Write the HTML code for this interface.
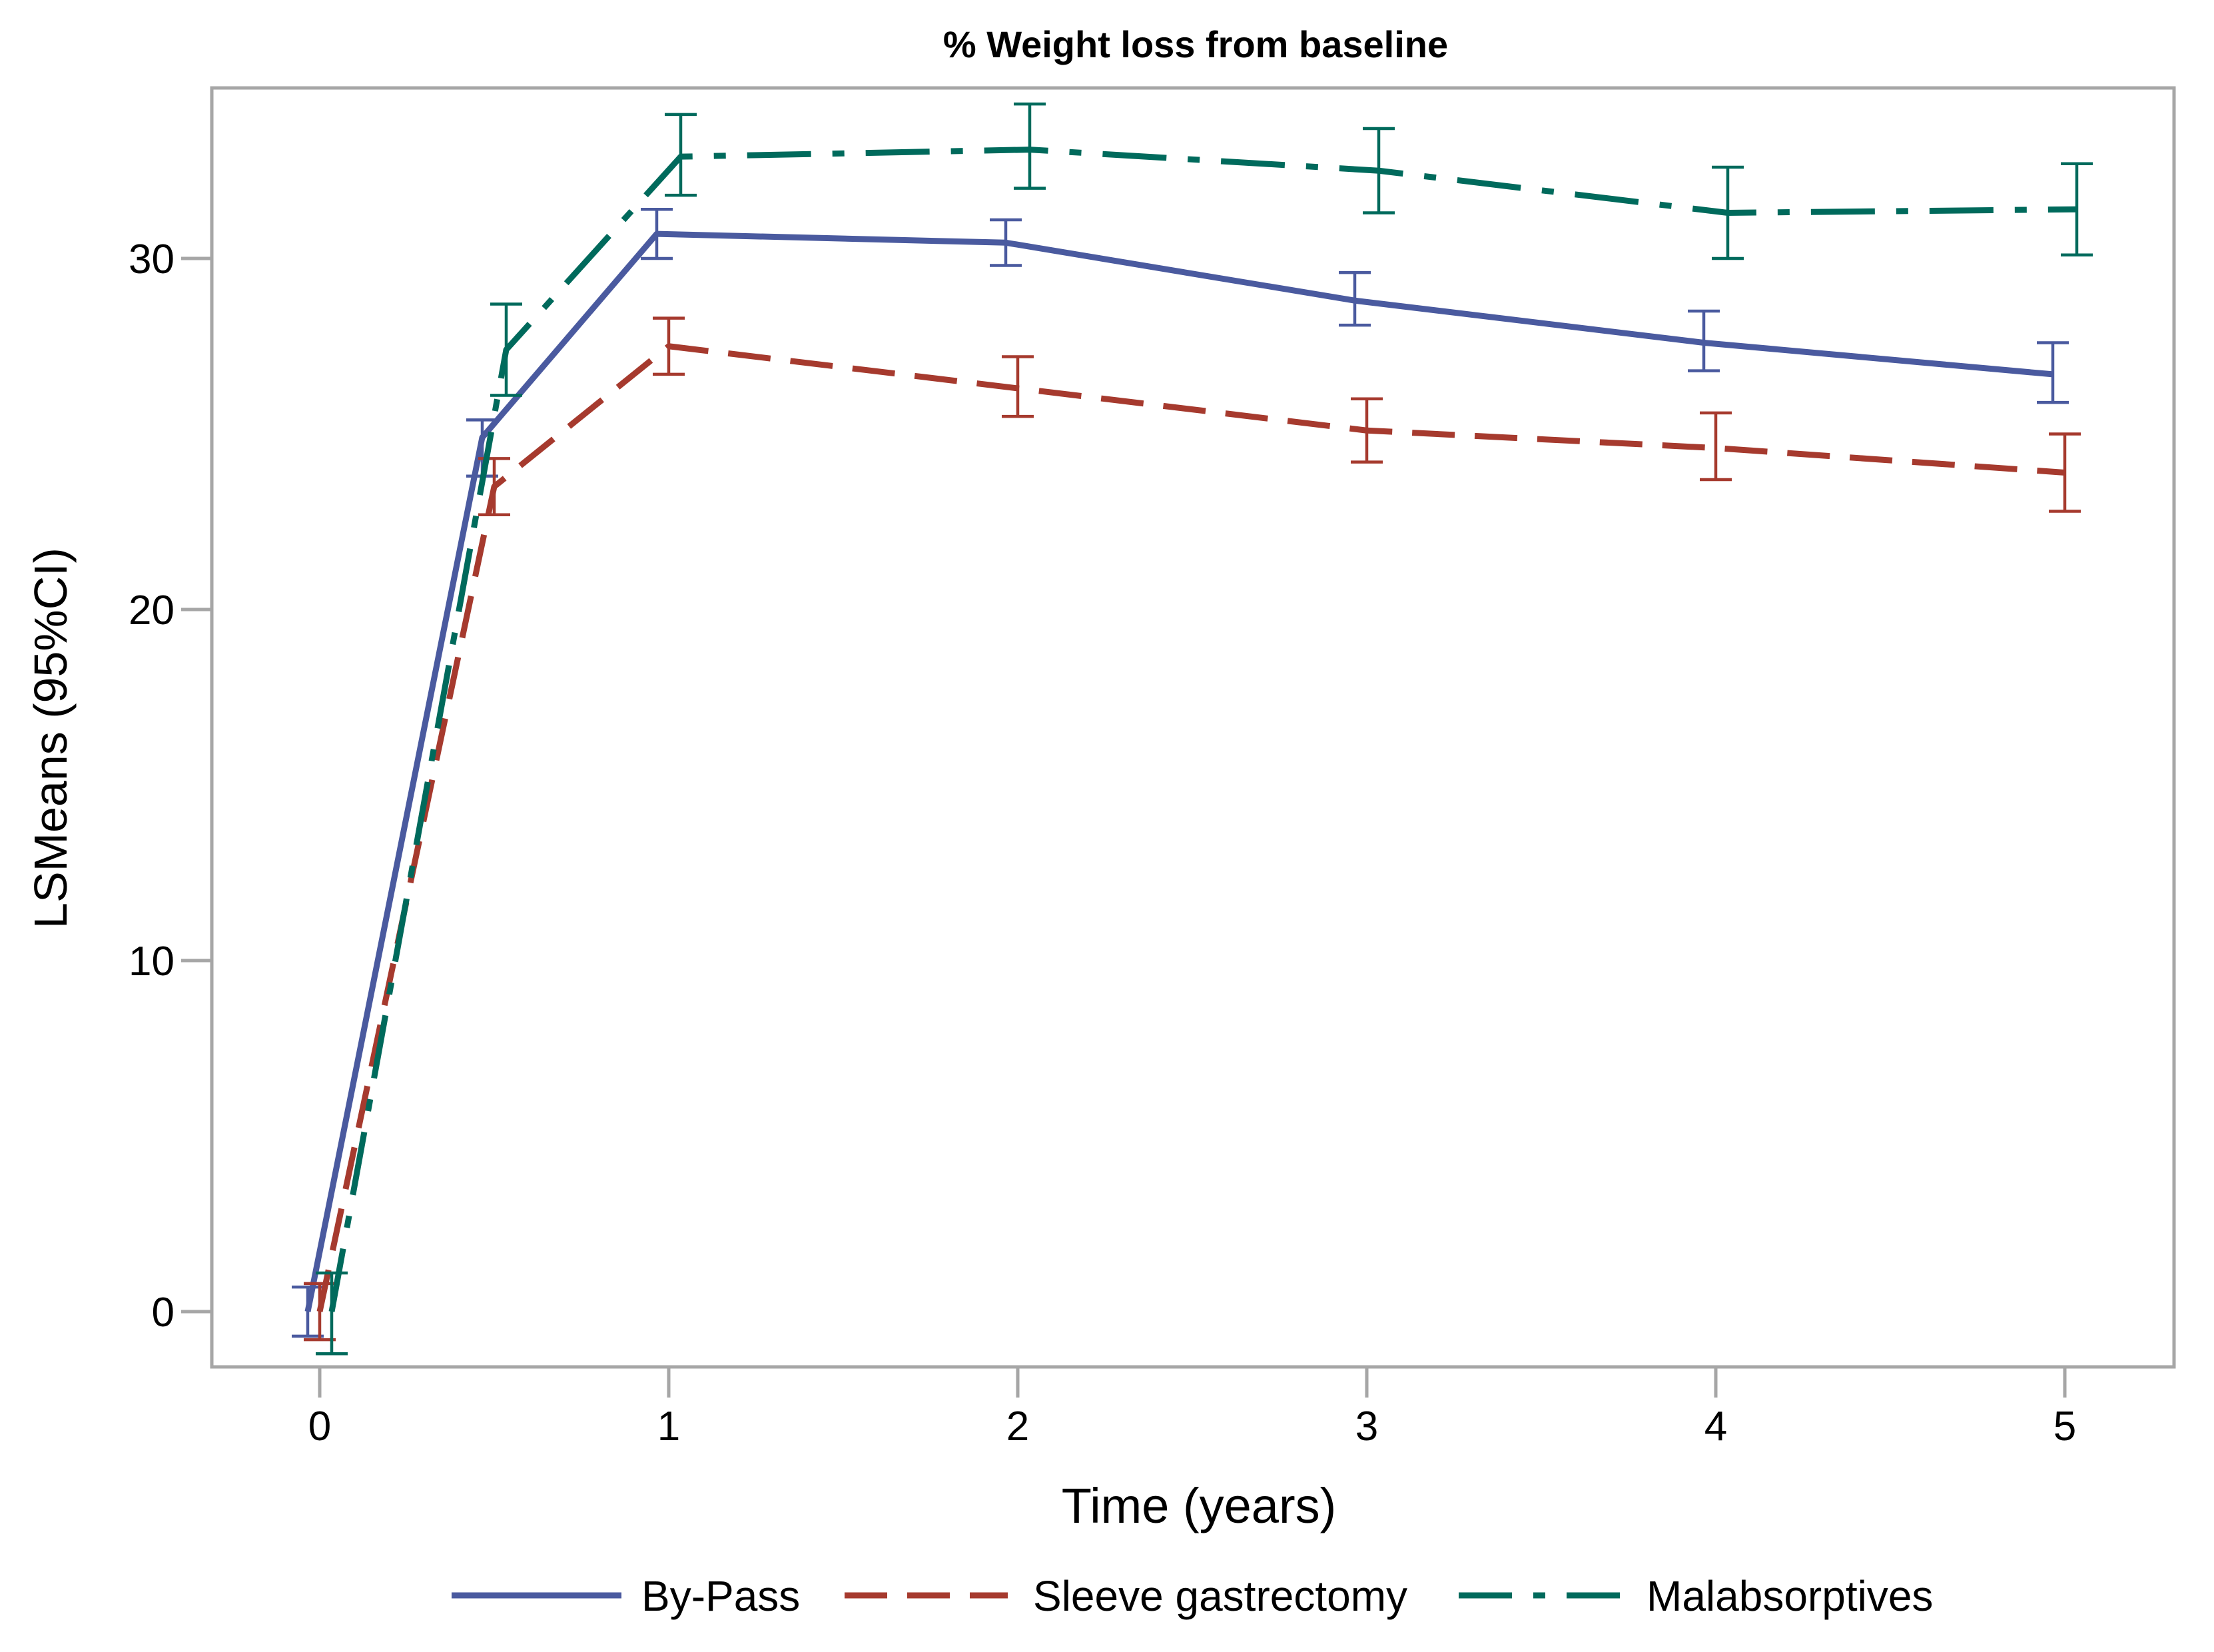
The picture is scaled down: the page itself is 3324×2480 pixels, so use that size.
<!DOCTYPE html>
<html><head><meta charset="utf-8"><style>
html,body{margin:0;padding:0;background:#fff;}
svg{display:block;font-family:"Liberation Sans",Arial,sans-serif;}
</style></head><body>
<svg id="chart" width="3324" height="2480" viewBox="0 0 3324 2480" xmlns="http://www.w3.org/2000/svg">
<rect x="0" y="0" width="3324" height="2480" fill="#fff"/>
<text x="1795" y="86" font-size="56" font-weight="bold" text-anchor="middle" fill="#000">% Weight loss from baseline</text>
<rect x="318" y="132" width="2946" height="1920" fill="none" stroke="#a6a6a6" stroke-width="5"/>
<g id="axes"></g>
<g id="series"></g>
<text transform="translate(100,1108) rotate(-90)" font-size="70" text-anchor="middle" fill="#000">LSMeans (95%CI)</text>
<text x="1800" y="2286" font-size="74" text-anchor="middle" fill="#000">Time (years)</text>
<g>
<line x1="678" y1="2395" x2="933" y2="2395" stroke="#4a5a9f" stroke-width="9"/>
<text x="963" y="2418" font-size="64" fill="#000">By-Pass</text>
<line x1="1268" y1="2395" x2="1513" y2="2395" stroke="#a63a2e" stroke-width="9" stroke-dasharray="64 30"/>
<text x="1551" y="2418" font-size="64" fill="#000">Sleeve gastrectomy</text>
<line x1="2190" y1="2395" x2="2433" y2="2395" stroke="#006a5c" stroke-width="9" stroke-dasharray="80 32 18 32"/>
<text x="2472" y="2418" font-size="64" fill="#000">Malabsorptives</text>
</g>
</svg>
<script>
const times = [0, 0.5, 1, 2, 3, 4, 5];
const xTicks = [0, 1, 2, 3, 4, 5];
const yTicks = [0, 10, 20, 30];
const bypassMean = [0, 24.9, 30.7, 30.45, 28.8, 27.6, 26.7];
const bypassLow  = [-0.7, 23.8, 30.0, 29.8, 28.1, 26.8, 25.9];
const bypassHigh = [0.7, 25.4, 31.4, 31.1, 29.6, 28.5, 27.6];
const sleeveMean = [0, 23.5, 27.5, 26.3, 25.1, 24.6, 23.9];
const sleeveLow  = [-0.8, 22.7, 26.7, 25.5, 24.2, 23.7, 22.8];
const sleeveHigh = [0.8, 24.3, 28.3, 27.2, 26.0, 25.6, 25.0];
const malabMean = [0, 27.4, 32.9, 33.1, 32.5, 31.3, 31.4];
const malabLow  = [-1.2, 26.1, 31.8, 32.0, 31.3, 30.0, 30.1];
const malabHigh = [1.1, 28.7, 34.1, 34.4, 33.7, 32.6, 32.7];

const NS = 'http://www.w3.org/2000/svg';
function xs(t){ return 480 + t * 524; }
function ys(v){ return 1969 - v * (1581/30); }
function mk(tag, attrs, parent){
  const e = document.createElementNS(NS, tag);
  for (const k in attrs) e.setAttribute(k, attrs[k]);
  parent.appendChild(e);
  return e;
}
const axes = document.getElementById('axes');
const series = document.getElementById('series');
yTicks.forEach(v => {
  const l = mk('line', {x1:272, x2:318, y1:ys(v), y2:ys(v), stroke:'#a6a6a6', 'stroke-width':5}, axes);
  
  
  const t = mk('text', {x:262, y:ys(v)+22, 'font-size':62, 'text-anchor':'end', fill:'#000'}, axes);
  
  
  t.textContent = v;
});
xTicks.forEach(v => {
  const l = mk('line', {x1:xs(v), x2:xs(v), y1:2052, y2:2098, stroke:'#a6a6a6', 'stroke-width':5}, axes);
  
  
  const t = mk('text', {x:xs(v), y:2162, 'font-size':62, 'text-anchor':'middle', fill:'#000'}, axes);
  
  
  t.textContent = v;
});
function drawSeries(name, mean, low, high, color, dash, off){
  const g = mk('g', {}, series);
  
  
  times.forEach((t, i) => {
    const x = xs(t) + off;
    const e = mk('path', {d:`M${x-24},${ys(high[i])}H${x+24}M${x},${ys(high[i])}V${ys(low[i])}M${x-24},${ys(low[i])}H${x+24}`, stroke:color, 'stroke-width':4.5, fill:'none'}, g);
    
    
  });
  const pts = times.map((t, i) => (xs(t)+off) + ',' + ys(mean[i])).join(' ');
  const p = mk('polyline', {points:pts, fill:'none', stroke:color, 'stroke-width':9, 'stroke-linejoin':'round'}, g);
  if (dash) p.setAttribute('stroke-dasharray', dash);
  
  
}
drawSeries('bypass', bypassMean, bypassLow, bypassHigh, '#4a5a9f', null, -18);
drawSeries('sleeve', sleeveMean, sleeveLow, sleeveHigh, '#a63a2e', '64 30', 0);
drawSeries('malabsorptive', malabMean, malabLow, malabHigh, '#006a5c', '96 32 18 32', 18);
</script>
</body></html>
